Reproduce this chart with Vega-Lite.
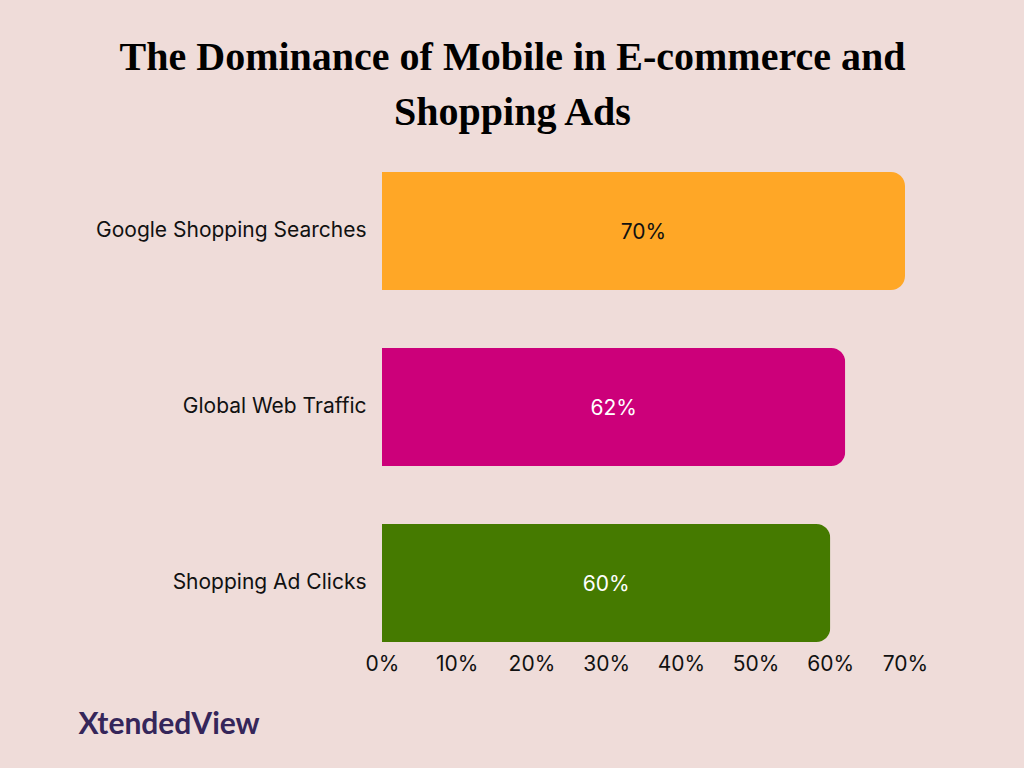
{
  "$schema": "https://vega.github.io/schema/vega-lite/v6.json",
  "width": 523,
  "height": 470,
  "autosize": {"type": "none"},
  "padding": {"left": 382, "top": 172, "right": 119, "bottom": 126},
  "background": "#efdcd9",
  "title": {
    "text": ["The Dominance of Mobile in E-commerce and", "Shopping Ads"],
    "anchor": "middle",
    "frame": "group",
    "dx": -131,
    "offset": 39,
    "font": "Liberation Serif",
    "fontSize": 40,
    "fontWeight": "bold",
    "lineHeight": 55,
    "color": "#000000"
  },
  "data": {
    "values": [
      {"metric": "Google Shopping Searches", "value": 0.70},
      {"metric": "Global Web Traffic", "value": 0.62},
      {"metric": "Shopping Ad Clicks", "value": 0.60}
    ]
  },
  "config": {"view": {"stroke": null}},
  "encoding": {
    "y": {
      "field": "metric",
      "type": "nominal",
      "sort": null,
      "scale": {"paddingInner": 0.33, "paddingOuter": 0},
      "axis": {
        "title": null,
        "domain": false,
        "ticks": false,
        "labelPadding": 16,
        "labelFont": "Inter",
        "labelFontSize": 21,
        "labelColor": "#111111",
        "labelLimit": 400
      }
    }
  },
  "layer": [
    {
      "mark": {"type": "bar", "cornerRadiusEnd": 14},
      "encoding": {
        "x": {
          "field": "value",
          "type": "quantitative",
          "scale": {"domain": [0, 0.7]},
          "axis": {
            "format": ".0%",
            "values": [0, 0.1, 0.2, 0.3, 0.4, 0.5, 0.6, 0.7],
            "domain": false,
            "ticks": false,
            "grid": false,
            "labelPadding": 11,
            "labelFont": "Inter",
            "labelFontSize": 21,
            "labelColor": "#111111",
            "labelFlush": false,
            "title": "XtendedView",
            "titleFont": "Lato",
            "titleFontSize": 30,
            "titleFontWeight": "bold",
            "titleColor": "#35265a",
            "titleX": -304,
            "titleY": 82,
            "titleAlign": "left",
            "titleAnchor": "start",
            "titleBaseline": "middle"
          }
        },
        "color": {
          "field": "metric",
          "type": "nominal",
          "scale": {
            "domain": ["Google Shopping Searches", "Global Web Traffic", "Shopping Ad Clicks"],
            "range": ["#ffa726", "#cc007a", "#457a00"]
          },
          "legend": null
        }
      }
    },
    {
      "transform": [{"calculate": "datum.value / 2", "as": "mid"}],
      "mark": {"type": "text", "font": "Inter", "fontSize": 21, "baseline": "middle", "align": "center", "dy": 2},
      "encoding": {
        "x": {"field": "mid", "type": "quantitative"},
        "text": {"field": "value", "type": "quantitative", "format": ".0%"},
        "color": {
          "condition": {"test": "datum.metric === 'Google Shopping Searches'", "value": "#111111"},
          "value": "#ffffff"
        }
      }
    }
  ]
}
